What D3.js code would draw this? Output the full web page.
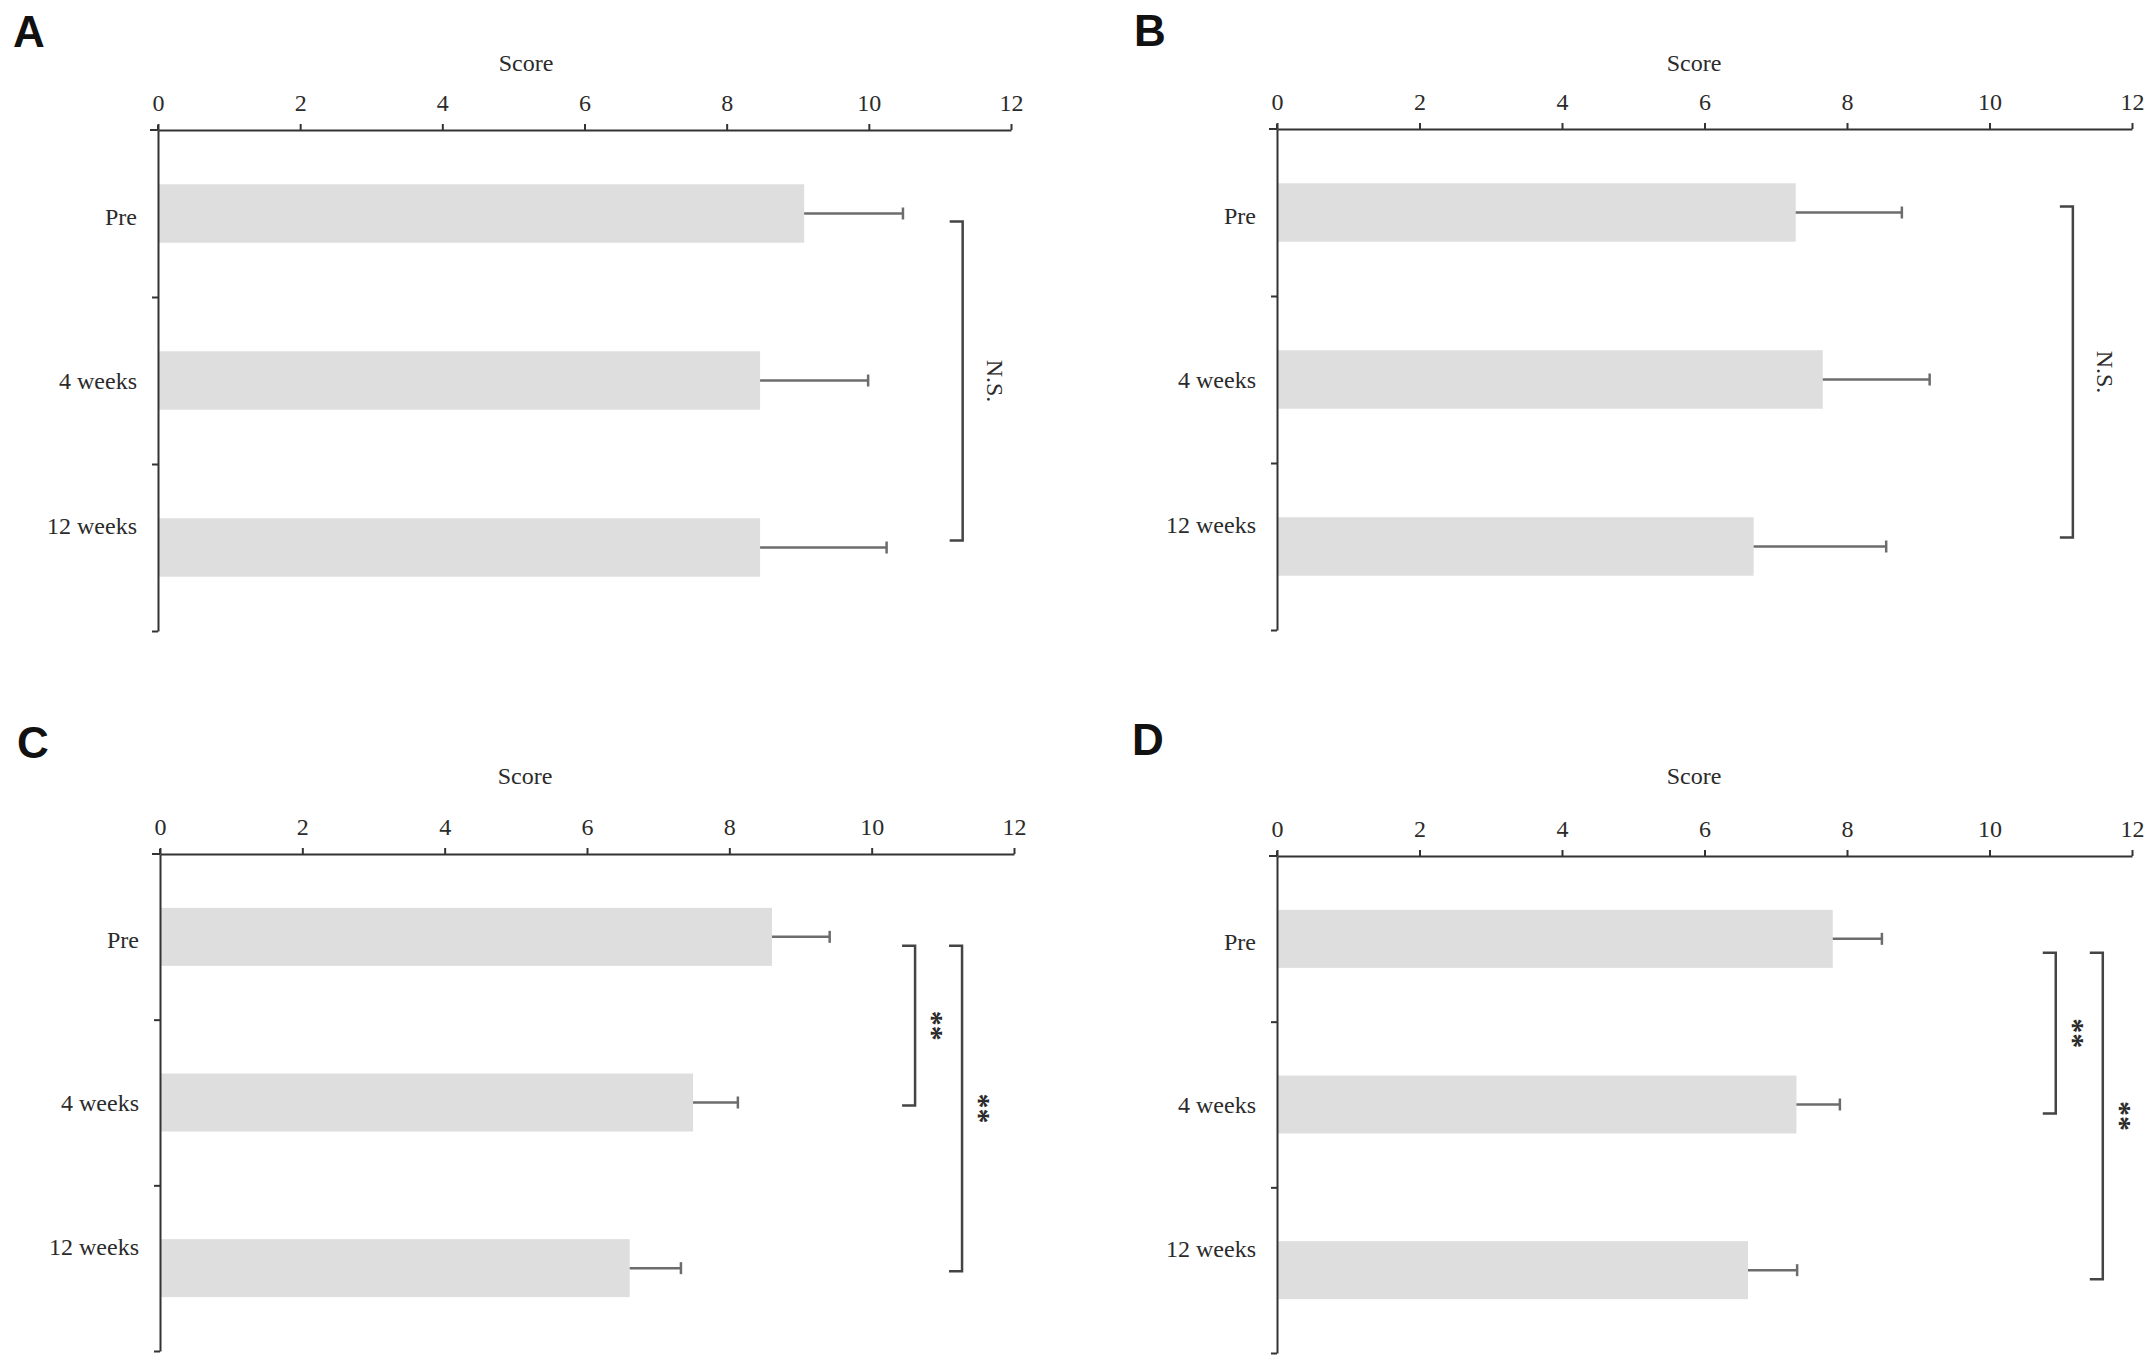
<!DOCTYPE html>
<html>
<head>
<meta charset="utf-8">
<script src="https://cdn.jsdelivr.net/npm/d3@7"></script>
<style>
  body { margin: 0; background: #fff; }
  svg { display: block; }
  .tick text, .cat, .score, .sig { font-family: "Liberation Serif", "Times New Roman", serif; fill: #2b2b2b; }
  .letter { font-family: "Liberation Sans", Arial, sans-serif; font-weight: bold; fill: #111; }
</style>
</head>
<body>
<svg id="chart" width="2150" height="1365"></svg>
<script>
const categories = ["Pre", "4 weeks", "12 weeks"];
const scoreTicks = [0, 2, 4, 6, 8, 10, 12];

const meanA = [9.09, 8.47, 8.47];
const errA = [1.39, 1.52, 1.78];
const meanB = [7.28, 7.66, 6.69];
const errB = [1.49, 1.50, 1.86];
const meanC = [8.60, 7.49, 6.60];
const errC = [0.81, 0.63, 0.72];
const meanD = [7.80, 7.29, 6.61];
const errD = [0.69, 0.61, 0.69];

// significance brackets: category indices and x position in score units
const sigA = [{ from: 0, to: 2, at: 11.32, label: "N.S." }];
const sigB = [{ from: 0, to: 2, at: 11.17, label: "N.S." }];
const sigC = [{ from: 0, to: 1, at: 10.61, label: "**" }, { from: 0, to: 2, at: 11.27, label: "**" }];
const sigD = [{ from: 0, to: 1, at: 10.93, label: "**" }, { from: 0, to: 2, at: 11.59, label: "**" }];

const panels = [
  { letter: "A", mean: meanA, err: errA, sig: sigA, x0: 158, x1: 1011, y0: 130, y1: 631, lx: 13, ly: 47, sx: 526, sy: 63, shift: [8, -7] },
  { letter: "B", mean: meanB, err: errB, sig: sigB, x0: 1277, x1: 2132, y0: 129, y1: 630, lx: 1134, ly: 46, sx: 1694, sy: 63, shift: [-6, -9] },
  { letter: "C", mean: meanC, err: errC, sig: sigC, x0: 160, x1: 1014, y0: 854, y1: 1351, lx: 17, ly: 758, sx: 525, sy: 776, shift: [9, 3] },
  { letter: "D", mean: meanD, err: errD, sig: sigD, x0: 1277, x1: 2132, y0: 856, y1: 1353, lx: 1132, ly: 755, sx: 1694, sy: 776, shift: [14, 9] }
];

// category labels sit a bit off the bar centre in the original
const labelShift = [3, 0, -22];

const svg = d3.select("#chart");

panels.forEach((p) => {
  const g = svg.append("g");

  const x = d3.scaleLinear().domain([0, 12]).range([p.x0, p.x1]);
  const y = d3.scaleBand().domain(categories).range([p.y0, p.y1]).paddingInner(0.65).paddingOuter(0.325);
  const yLine = d3.scaleLinear().domain([0, categories.length]).range([p.y0, p.y1]);

  g.append("text")
    .attr("class", "letter")
    .attr("x", p.lx)
    .attr("y", p.ly)
    .attr("font-size", 44)
    .text(p.letter);

  g.append("text")
    .attr("class", "score")
    .attr("x", p.sx)
    .attr("y", p.sy)
    .attr("dy", "0.35em")
    .attr("text-anchor", "middle")
    .attr("font-size", 24)
    .text("Score");

  // bars
  g.selectAll("rect")
    .data(p.mean)
    .enter()
    .append("rect")
    .attr("x", x(0) + 1)
    .attr("y", (d, i) => y(categories[i]))
    .attr("width", (d) => x(d) - x(0) - 1)
    .attr("height", y.bandwidth())
    .attr("fill", "#dedede");

  // error bars
  const eb = g.selectAll(".err")
    .data(p.mean)
    .enter()
    .append("g")
    .attr("class", "err")
    .attr("stroke", "#6c6c6c")
    .attr("stroke-width", 2.5);

  eb.append("line")
    .attr("x1", (d) => x(d))
    .attr("x2", (d, i) => x(d + p.err[i]))
    .attr("y1", (d, i) => y(categories[i]) + y.bandwidth() / 2)
    .attr("y2", (d, i) => y(categories[i]) + y.bandwidth() / 2);

  eb.append("line")
    .attr("x1", (d, i) => x(d + p.err[i]))
    .attr("x2", (d, i) => x(d + p.err[i]))
    .attr("y1", (d, i) => y(categories[i]) + y.bandwidth() / 2 - 6)
    .attr("y2", (d, i) => y(categories[i]) + y.bandwidth() / 2 + 6);

  // x axis on top
  const xAxis = g.append("g")
    .attr("transform", `translate(0,${p.y0})`)
    .call(d3.axisTop(x).tickValues(scoreTicks).tickSize(6).tickSizeOuter(0).tickPadding(13));
  xAxis.selectAll("text").attr("font-size", 24);

  // y axis with ticks between categories
  g.append("g")
    .attr("transform", `translate(${p.x0},0)`)
    .call(d3.axisLeft(yLine).tickValues([1, 2, 3]).tickFormat("").tickSize(6).tickSizeOuter(0));

  // little overhang at the origin
  g.append("path")
    .attr("d", `M${p.x0 - 8},${p.y0}H${p.x0}M${p.x0},${p.y0 - 5}V${p.y0}`)
    .attr("fill", "none");

  g.selectAll(".domain, .tick line, path").attr("stroke", "#333").attr("stroke-width", 2);

  g.selectAll(".cat")
    .data(categories)
    .enter()
    .append("text")
    .attr("class", "cat")
    .attr("x", p.x0 - 21)
    .attr("y", (d, i) => y(d) + y.bandwidth() / 2 + labelShift[i])
    .attr("dy", "0.35em")
    .attr("text-anchor", "end")
    .attr("font-size", 24)
    .text((d) => d);

  // significance brackets
  p.sig.forEach((s) => {
    const bx = x(s.at);
    const top = y(categories[s.from]) + y.bandwidth() / 2 + p.shift[0];
    const bot = y(categories[s.to]) + y.bandwidth() / 2 + p.shift[1];
    g.append("path")
      .attr("d", `M${bx - 13},${top}H${bx}V${bot}H${bx - 13}`)
      .attr("fill", "none")
      .attr("stroke", "#444")
      .attr("stroke-width", 2.5);

    const isStar = s.label === "**";
    const tx = bx + (isStar ? 26 : 33);
    const ty = (top + bot) / 2;
    g.append("text")
      .attr("class", "sig")
      .attr("transform", `translate(${tx},${ty}) rotate(90)`)
      .attr("text-anchor", "middle")
      .attr("dy", isStar ? "0.6em" : "0.35em")
      .attr("font-size", isStar ? 30 : 24)
      .attr("font-weight", isStar ? "bold" : "normal")
      .text(s.label);
  });
});
</script>
</body>
</html>
